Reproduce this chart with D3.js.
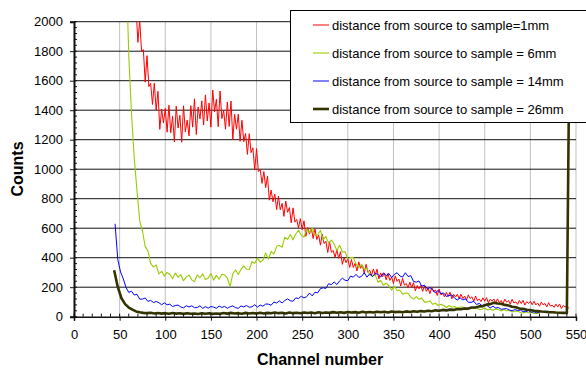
<!DOCTYPE html>
<html><head><meta charset="utf-8">
<script src="https://cdn.jsdelivr.net/npm/d3@7"></script>
<style>body{margin:0;background:#fff}svg{display:block;font-family:Arial,"Liberation Sans",sans-serif}</style>
</head><body><svg id="c" width="586" height="369"></svg>
<script>
// Axis ticks
const xTicks = [0,50,100,150,200,250,300,350,400,450,500,550];
const yTicks = [0,200,400,600,800,1000,1200,1400,1600,1800,2000];
const xLabel = "Channel number";
const yLabel = "Counts";
const seriesNames = [
  "distance from source to sample=1mm",
  "distance from source to sample = 6mm",
  "distance from source to sample = 14mm",
  "distance from source to sample = 26mm"];
const seriesColors = ["#ff0000","#99cc00","#0000ff","#333300"];
const seriesWidths = [1,1.1,1,2.6];

// 1mm: channels from 64, every 2 channels (rows of 10)
const start1mm = 64, step1mm = 2;
const counts1mm = [
 2400,2110,2090,1860,2010,1800,1810,1590,1770,1560,
 1582,1439,1584,1400,1528,1270,1408,1314,1412,1251,
 1434,1247,1359,1185,1427,1279,1365,1183,1430,1253,
 1333,1226,1431,1285,1477,1235,1422,1341,1463,1299,
 1504,1327,1449,1285,1537,1389,1475,1288,1530,1343,
 1398,1271,1456,1290,1462,1200,1372,1271,1373,1189,
 1332,1186,1242,1100,1241,1112,1145,994,1140,984,
 997,904,984,875,953,790,858,779,832,726,
 818,724,768,680,784,708,740,636,738,641,
 660,600,665,590,650,545,605,560,600,530,
 596,523,554,485,560,496,512,435,510,437,
 449,403,453,395,441,355,401,366,394,334,
 388,334,361,310,372,328,348,294,355,301,
 315,282,324,282,322,256,297,270,295,250,
 292,246,269,225,277,239,255,208,260,214,
 225,196,234,196,231,175,211,189,212,172,
 210,172,192,156,200,169,182,144,187,148,
 157,134,165,137,166,122,151,133,152,123,
 153,123,140,112,148,124,135,104,140,110,
 119,102,128,105,129,94,118,105,120,95,
 121,95,110,86,119,98,110,85,118,93,
 101,84,110,89,111,79,102,90,104,81,
 105,80,93,71,99,80,90,66,95,72,
 78,63,85,66,86,56,76,65,77,56];

// 6mm: channels from 57, every 3 channels
const start6mm = 57, step6mm = 3;
const counts6mm = [
 2418,1773,1376,1074,855,650,581,477,447,362,
 338,350,290,308,275,300,286,257,296,268,
 285,244,268,282,250,238,283,264,290,253,
 261,293,248,280,254,288,283,262,205,291,
 317,286,321,345,322,320,373,362,397,370,
 383,432,391,442,424,477,483,471,539,524,
 558,521,561,586,552,540,594,572,601,552,
 554,585,521,544,499,520,493,448,484,439,
 441,392,402,401,358,333,355,323,330,282,
 274,285,234,246,213,227,210,180,206,178,
 181,152,160,159,133,119,136,118,126,99,
 99,107,84,91,76,84,76,62,76,64,
 69,56,64,66,55,50,63,55,62,49,
 51,59,45,53,44,52,48,39,49,40,
 43,32,37,39,29,25,34,27,32,22,
 22,26];

// 14mm: channels from 45, every 3 channels
const start14mm = 45, step14mm = 3;
const counts14mm = [
 630,387,303,257,198,165,173,147,152,119,
 119,127,104,111,96,103,95,81,94,81,
 85,69,76,79,66,60,74,66,74,61,
 62,74,57,68,58,69,65,57,72,63,
 70,57,67,73,61,57,73,66,76,64,
 67,81,65,79,71,86,85,78,99,93,
 107,93,110,121,108,105,128,123,139,127,
 136,160,141,166,162,190,196,192,224,217,
 236,218,243,261,247,244,276,268,287,266,
 273,298,268,291,272,294,287,268,297,279,
 293,266,287,298,276,268,298,273,278,239,
 234,242,207,214,189,197,183,161,178,157,
 161,137,144,147,125,113,128,114,121,98,
 97,104,83,90,75,82,73,60,71,59,
 62,50,53,55,45,40,48,42,45,34,
 34,41,30,33,26,30];

// 26mm: channels from 44, every 4 channels
const start26mm = 44, step26mm = 4;
const counts26mm = [
 315,200,125,85,62,48,36,30,26,24,
 27,22,25,21,24,20,25,21,23,19,
 24,20,22,18,23,20,24,19,22,20,
 25,21,26,22,24,20,26,22,25,21,
 27,22,26,23,28,24,27,22,28,24,
 27,23,29,25,28,24,30,25,29,26,
 31,27,30,26,32,28,31,27,33,28,
 32,29,34,30,33,29,35,31,34,30,
 36,32,37,33,38,35,40,37,43,40,
 46,43,48,46,52,50,56,55,62,62,
 70,72,82,85,95,90,88,80,76,68,
 64,56,53,47,45,40,38,35,34,31,
 30,28,27,26,25,2600];

const series = [
  {start:start1mm, step:step1mm, v:counts1mm},
  {start:start6mm, step:step6mm, v:counts6mm},
  {start:start14mm, step:step14mm, v:counts14mm},
  {start:start26mm, step:step26mm, v:counts26mm}
].map((s,k)=>({name:seriesNames[k], color:seriesColors[k], width:seriesWidths[k],
   pts:s.v.map((v,i)=>[s.start+i*s.step, v])}));

const svg = d3.select("#c");
const L=74, R=576, T=21.7, B=316.7;
const x = d3.scaleLinear().domain([0,550]).range([L,R]);
const y = d3.scaleLinear().domain([0,2000]).range([B,T]);

// vertical gridlines
svg.append("g").selectAll("line").data(xTicks.slice(1)).join("line")
  .attr("x1",d=>x(d)).attr("x2",d=>x(d)).attr("y1",T).attr("y2",B)
  .attr("stroke","#c0c0c0").attr("stroke-width",1);
// horizontal gridlines
svg.append("g").selectAll("line").data(yTicks.slice(1)).join("line")
  .attr("x1",L).attr("x2",R).attr("y1",d=>y(d)).attr("y2",d=>y(d))
  .attr("stroke","#111").attr("stroke-width",1);

svg.append("clipPath").attr("id","clip").append("rect")
  .attr("x",L).attr("y",T).attr("width",R-L).attr("height",B-T);

const line = d3.line().x(d=>x(d[0])).y(d=>y(d[1]));
const g = svg.append("g").attr("clip-path","url(#clip)");
series.forEach(s=>{
  g.append("path").datum(s.pts).attr("d",line).attr("fill","none")
   .attr("stroke",s.color).attr("stroke-width",s.width).attr("stroke-linejoin","round");
});

// axes
const xAxis = d3.axisBottom(x).tickValues(xTicks).tickSize(4).tickPadding(9);
const gx = svg.append("g").attr("transform",`translate(0,${B})`).call(xAxis);
gx.select(".domain").attr("stroke","#111").attr("stroke-width",1.5);
const xMinor = d3.range(0,551,10).filter(d=>d%50!==0);
svg.append("g").selectAll("line").data(xMinor.concat(xTicks)).join("line")
  .attr("x1",d=>x(d)).attr("x2",d=>x(d)).attr("y1",B-3).attr("y2",B)
  .attr("stroke","#111");

const yAxis = d3.axisLeft(y).tickValues(yTicks).tickFormat(d3.format("d")).tickSize(4).tickPadding(7);
const gy = svg.append("g").attr("transform",`translate(${L},0)`).call(yAxis);
gy.select(".domain").attr("stroke","#111").attr("stroke-width",2);
const yMinor = d3.range(0,2001,40).filter(d=>d%200!==0);
svg.append("g").selectAll("line").data(yMinor.concat(yTicks)).join("line")
  .attr("x1",L).attr("x2",L+3).attr("y1",d=>y(d)).attr("y2",d=>y(d))
  .attr("stroke","#111");

[gx,gy].forEach(a=>{
  a.selectAll(".tick line").attr("stroke","#111");
  a.selectAll("text").attr("font-size",13).attr("fill","#000")
   .attr("font-family","Arial, 'Liberation Sans', sans-serif");
});

svg.append("text").attr("x",320).attr("y",365).attr("text-anchor","middle")
  .attr("font-size",16).attr("font-weight","bold").text(xLabel);
svg.append("text").attr("transform","translate(23,169) rotate(-90)").attr("text-anchor","middle")
  .attr("font-size",16).attr("font-weight","bold").text(yLabel);

// legend
const lg = svg.append("g");
lg.append("rect").attr("x",290.5).attr("y",10.5).attr("width",310).attr("height",112)
  .attr("fill","#fff").attr("stroke","#000").attr("stroke-width",1);
series.forEach((s,i)=>{
  const cy = 25 + i*28;
  lg.append("line").attr("x1",313).attr("x2",329).attr("y1",cy).attr("y2",cy)
    .attr("stroke",s.color).attr("stroke-width",Math.min(s.width,3));
  lg.append("text").attr("x",332).attr("y",cy+4.5).attr("font-size",13).text(s.name);
});
</script></body></html>
